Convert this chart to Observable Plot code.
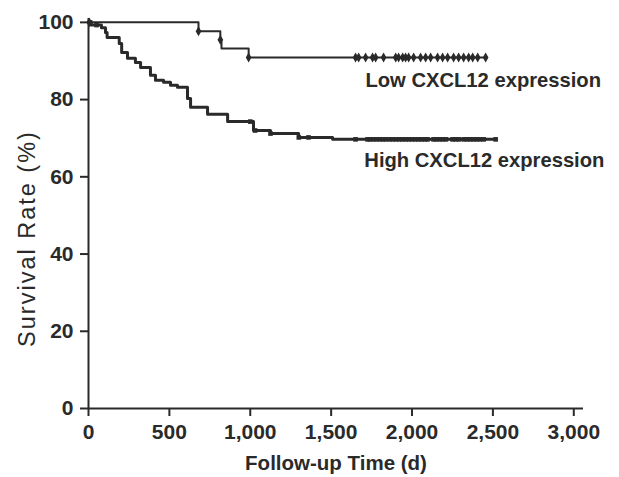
<!DOCTYPE html>
<html>
<head>
<meta charset="utf-8">
<script src="https://cdn.jsdelivr.net/npm/d3@7"></script>
<script src="https://cdn.jsdelivr.net/npm/@observablehq/plot@0.6"></script>
<style>
  html, body { margin: 0; padding: 0; background: #fff; }
</style>
</head>
<body>
<div id="chart"></div>
<script>
// ---- data ----
const xTicks = [0, 500, 1000, 1500, 2000, 2500, 3000];
const yTicks = [0, 20, 40, 60, 80, 100];

const lowTimes = [0, 680, 815, 822, 990, 2455];
const lowSurv  = [100, 97.7, 95.5, 93.2, 90.9, 90.9];
const lowCensor = [5, 680, 815, 990, 1651, 1670, 1713, 1756, 1775, 1824, 1899, 1917, 1942, 1960, 1979, 2010, 2053, 2084, 2115, 2158, 2189, 2220, 2257, 2288, 2319, 2350, 2375, 2406, 2455];

const highTimes = [0, 15, 80, 105, 115, 190, 205, 241, 290, 322, 383, 414, 464, 507, 550, 612, 631, 736, 860, 1020, 1125, 1299, 1509, 2517];
const highSurv  = [100, 99.3, 98.6, 97.4, 96.1, 94.5, 92.2, 90.7, 89.6, 88.3, 86.3, 85.0, 84.5, 83.7, 83.2, 80.3, 78.0, 76.2, 74.3, 72.0, 71.2, 70.2, 69.7, 69.7];
const highCensor = [10, 50, 1000, 1030, 1125, 1300, 1360, 1651, 1725, 1740, 1760, 1780, 1800, 1820, 1837, 1860, 1880, 1900, 1920, 1940, 1960, 1980, 2000, 2020, 2040, 2060, 2080, 2096, 2133, 2150, 2170, 2190, 2210, 2250, 2270, 2290, 2320, 2340, 2360, 2380, 2400, 2420, 2443, 2517];

const seriesLabels = ["Low CXCL12 expression", "High CXCL12 expression"];
const xLabel = "Follow-up Time (d)";
const yLabel = "Survival Rate (%)";

// ---- build tables ----
const lowLine = lowTimes.map((t, i) => ({t, s: lowSurv[i]}));
const highLine = highTimes.map((t, i) => ({t, s: highSurv[i]}));
function stepAt(times, surv, t) {
  let v = surv[0];
  for (let i = 0; i < times.length; i++) if (times[i] <= t) v = surv[i];
  return v;
}
const lowC = lowCensor.map(t => ({t, s: stepAt(lowTimes, lowSurv, t)}));
const highC = highCensor.map(t => ({t, s: stepAt(highTimes, highSurv, t)}));

const ink = "#2a2a2a";
const font = "'Liberation Sans', Arial, Helvetica, sans-serif";

const chart = Plot.plot({
  width: 619,
  height: 477,
  marginLeft: 88,
  marginRight: 36,
  marginTop: 18,
  marginBottom: 69,
  x: {domain: [0, 3060]},
  y: {domain: [0, 101]},
  style: {fontFamily: font, color: ink, background: "#fff", overflow: "visible"},
  marks: [
    Plot.axisX(xTicks, {tickSize: 8, tickPadding: 8, tickFormat: d3.format(","), fontSize: 21, fontWeight: "bold", strokeWidth: 2, stroke: ink, fill: ink, label: null}),
    Plot.axisY(yTicks, {tickSize: 8, tickPadding: 7, fontSize: 21, fontWeight: "bold", strokeWidth: 2, stroke: ink, fill: ink, label: null}),
    Plot.ruleY([0], {stroke: ink, strokeWidth: 2, x1: 0, x2: 3060}),
    Plot.ruleX([0], {stroke: ink, strokeWidth: 2, y1: 0, y2: 101}),
    Plot.line(lowLine, {x: "t", y: "s", curve: "step-after", stroke: ink, strokeWidth: 2}),
    Plot.line(highLine, {x: "t", y: "s", curve: "step-after", stroke: ink, strokeWidth: 3}),
    Plot.dot(lowC, {x: "t", y: "s", symbol: "diamond", r: 3, fill: ink, stroke: "none"}),
    Plot.dot(highC, {x: "t", y: "s", symbol: "square", r: 2.6, fill: ink, stroke: "none"}),
    Plot.text([seriesLabels[0]], {x: 1712, y: 85.0, text: d => d, textAnchor: "start", fontSize: 20.2, fontWeight: "bold", fill: ink}),
    Plot.text([seriesLabels[1]], {x: 1705, y: 64.3, text: d => d, textAnchor: "start", fontSize: 20.2, fontWeight: "bold", fill: ink}),
    Plot.text([xLabel], {frameAnchor: "bottom", text: d => d, dy: 61, fontSize: 20.5, fontWeight: "bold", fill: ink}),
    Plot.text([yLabel], {frameAnchor: "left", textAnchor: "middle", text: d => d, rotate: -90, dx: -61, dy: 25, fontSize: 23.5, fill: ink})
  ]
});
d3.select(chart).selectAll("text").filter(function() { return this.textContent === yLabel; })
  .style("letter-spacing", "2px");
document.getElementById("chart").appendChild(chart);
</script>
</body>
</html>
